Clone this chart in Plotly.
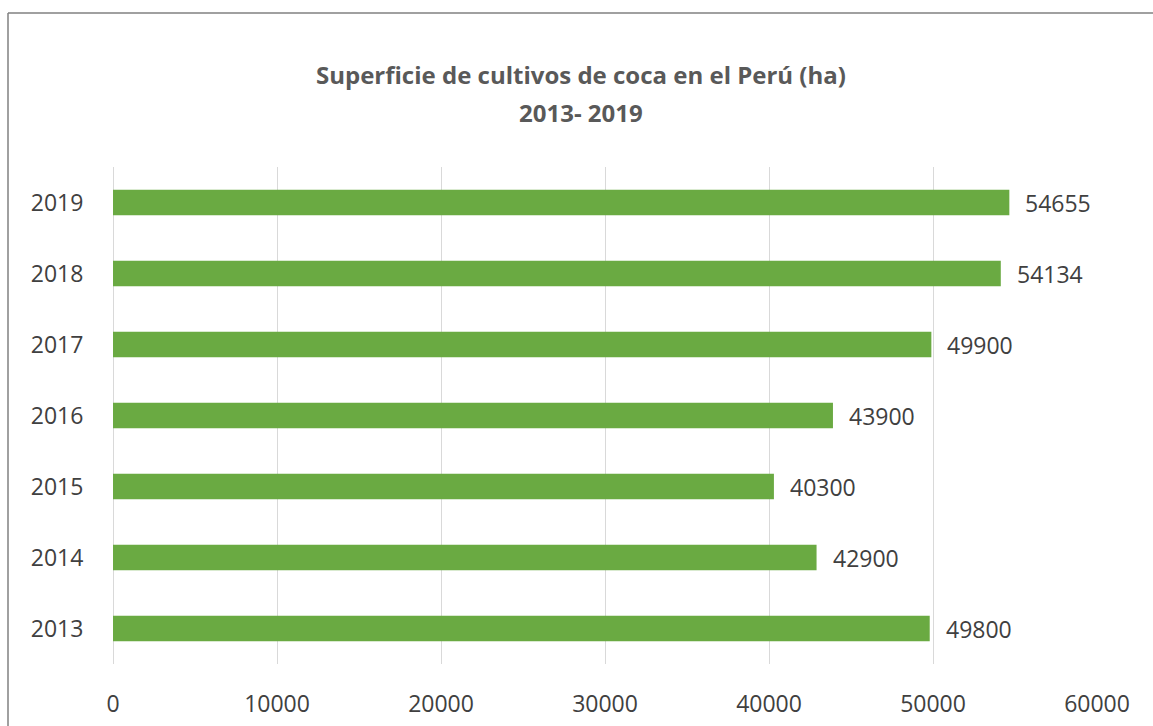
import plotly.graph_objects as go

years = [2013, 2014, 2015, 2016, 2017, 2018, 2019]
year_labels = ["2013", "2014", "2015", "2016", "2017", "2018", "2019"]
hectares = [49800, 42900, 40300, 43900, 49900, 54134, 54655]
x_ticks = [0, 10000, 20000, 30000, 40000, 50000, 60000]
title_lines = ["Superficie de cultivos de coca en el Perú (ha)", "2013- 2019"]

W, H = 1153, 726
L, R, T, B = 113, 56, 167, 62
pw, ph = W - L - R, H - T - B

fig = go.Figure()
fig.add_trace(go.Bar(
    y=years, x=hectares, orientation="h",
    marker=dict(color="#6AAA42", line=dict(width=0)),
    width=0.36,
))

for y, v in zip(years, hectares):
    fig.add_annotation(x=v, y=y, text=str(v), showarrow=False,
                       xanchor="left", xshift=14,
                       font=dict(family="Open Sans", size=23, color="#404040"))

# title (two lines)
for line, py in zip(title_lines, [75, 113]):
    fig.add_annotation(xref="paper", yref="paper",
                       x=(581 - L) / pw, y=(H - B - py) / ph,
                       text="<b>" + line + "</b>", showarrow=False,
                       xanchor="center", yanchor="middle",
                       font=dict(family="Open Sans", size=24, color="#595959"))

# chart border (top and left visible)
bx = (8 - L) / pw
by = (H - B - 13) / ph
fig.add_shape(type="line", xref="paper", yref="paper", x0=bx, x1=1.2, y0=by, y1=by,
              line=dict(color="#808080", width=1.5))
fig.add_shape(type="line", xref="paper", yref="paper", x0=bx, x1=bx, y0=by, y1=-0.3,
              line=dict(color="#808080", width=1.5))

fig.update_layout(
    width=W, height=H,
    margin=dict(l=L, r=R, t=T, b=B, pad=0, autoexpand=False),
    paper_bgcolor="white", plot_bgcolor="white",
    showlegend=False,
    xaxis=dict(
        range=[0, 60000], autorange=False, automargin=False,
        tickvals=x_ticks, ticktext=[str(t) for t in x_ticks],
        showgrid=True, gridcolor="#D9D9D9", gridwidth=1.3,
        zeroline=True, zerolinecolor="#D9D9D9", zerolinewidth=1.3,
        showline=False, ticks="outside", ticklen=19, tickcolor="rgba(0,0,0,0)",
        tickfont=dict(family="Open Sans", size=23, color="#404040"),
        fixedrange=True,
    ),
    yaxis=dict(
        type="linear", range=[2012.5, 2019.5], autorange=False, automargin=False,
        tickvals=years, ticktext=year_labels,
        showgrid=False, zeroline=False, showline=False,
        ticks="outside", ticklen=24, tickcolor="rgba(0,0,0,0)",
        tickfont=dict(family="Open Sans", size=23, color="#404040"),
        fixedrange=True,
    ),
)

fig.write_html("out.html")
